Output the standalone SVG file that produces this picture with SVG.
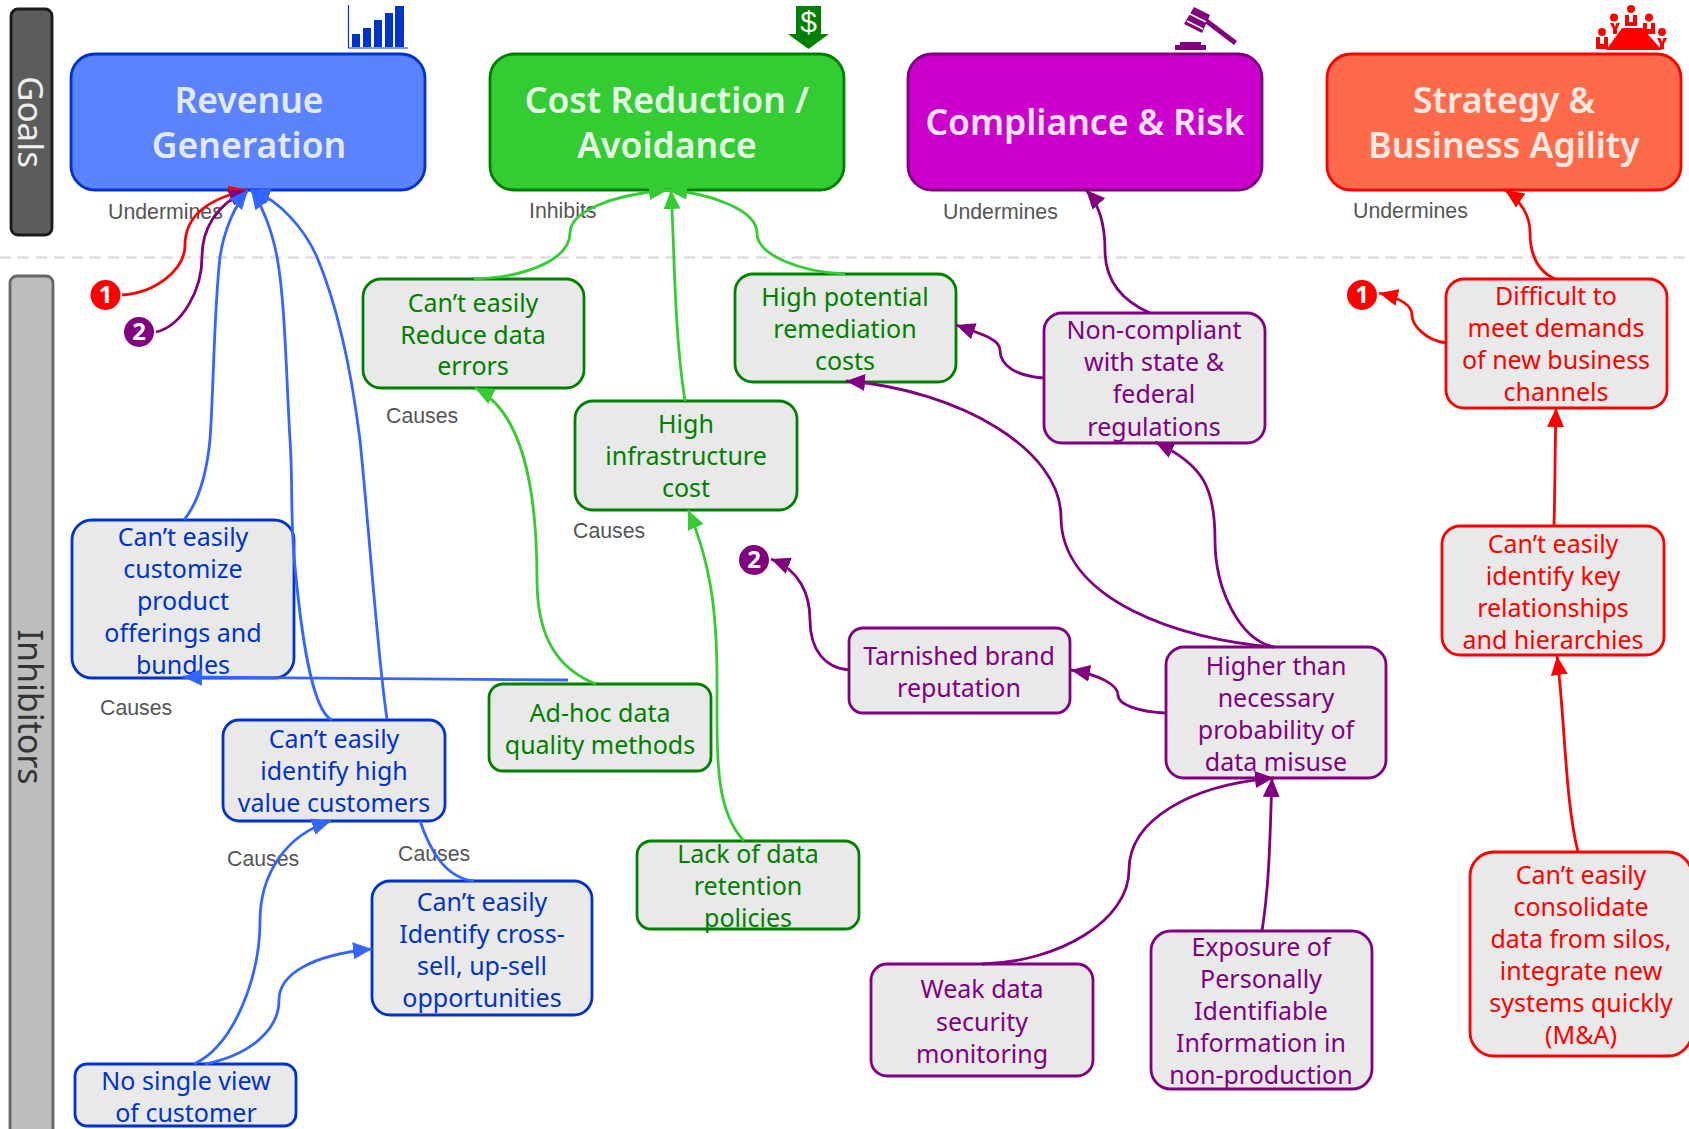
<svg xmlns="http://www.w3.org/2000/svg" width="1689" height="1129" viewBox="0 0 1689 1129">
<style>
text{font-family:"Noto Sans","DejaVu Sans",sans-serif;text-anchor:middle}
.goal{stroke-width:2.800}
.n{fill:#e9e9e9;stroke-width:2.800}
.t{font-size:25px;transform:translateY(-0.3px)}
.g{font-size:35.500px;font-weight:600}
.lab{font-family:"Liberation Sans",Arial,sans-serif;font-size:21.300px;fill:#555;text-anchor:start}
.c{fill:none;stroke-width:2.800}
.b{stroke:#36f}.gr{stroke:#3c3}.p{stroke:#800080}.r{stroke:#f00}
.tb{fill:#03c}.tg{fill:#008000}.tp{fill:#800080}.tr{fill:#f00}
.sb{stroke:#03c}.sg{stroke:#008000}.sp{stroke:#800080}.sr{stroke:#f00}
.num{font-size:24px;font-weight:700;fill:#fff}
</style>
<defs>
<marker id="ab" markerUnits="userSpaceOnUse" markerWidth="20" markerHeight="17" refX="19" refY="8.500" orient="auto"><path d="M0,0L19,8.500L0,17z" fill="#36f"/></marker>
<marker id="ag" markerUnits="userSpaceOnUse" markerWidth="20" markerHeight="17" refX="19" refY="8.500" orient="auto"><path d="M0,0L19,8.500L0,17z" fill="#3c3"/></marker>
<marker id="ap" markerUnits="userSpaceOnUse" markerWidth="20" markerHeight="17" refX="19" refY="8.500" orient="auto"><path d="M0,0L19,8.500L0,17z" fill="#800080"/></marker>
<marker id="ar" markerUnits="userSpaceOnUse" markerWidth="20" markerHeight="17" refX="19" refY="8.500" orient="auto"><path d="M0,0L19,8.500L0,17z" fill="#f00"/></marker>
</defs>
<rect width="1689" height="1129" fill="#fff"/>
<line x1="0" y1="257.500" x2="1689" y2="257.500" stroke="#ddd" stroke-width="2.500" stroke-dasharray="11 7"/>
<g id="band-goals"><rect x="11" y="9" width="41" height="226" rx="7" fill="#5c5c5c" stroke="#1a1a1a" stroke-width="2.800"/><text transform="translate(18,122) rotate(90)" font-size="35" fill="#eee">Goals</text></g>
<g id="band-inhibitors"><rect x="10" y="276" width="43" height="870" rx="7" fill="#bdbdbd" stroke="#666" stroke-width="2.800"/><text transform="translate(18,707) rotate(90)" font-size="34" fill="#333">Inhibitors</text></g>

<g id="goal-revenue"><rect class="goal sb" x="71" y="54" width="354" height="136" rx="24" fill="#5b83ff"/><text class="g" x="249" y="113" fill="#e3e9ff">Revenue</text><text class="g" x="249" y="158" fill="#e3e9ff">Generation</text></g>
<g id="goal-cost"><rect class="goal sg" x="490" y="54" width="354" height="136" rx="24" fill="#3c3"/><text class="g" x="667" y="113" fill="#e6fae6">Cost Reduction /</text><text class="g" x="667" y="158" fill="#e6fae6">Avoidance</text></g>
<g id="goal-compliance"><rect class="goal sp" x="908" y="54" width="354" height="136" rx="24" fill="#c0c"/><text class="g" x="1085" y="135" fill="#fde5fd">Compliance &amp; Risk</text></g>
<g id="goal-strategy"><rect class="goal sr" x="1327" y="54" width="354" height="136" rx="24" fill="#ff6a4a"/><text class="g" x="1504" y="113" fill="#ffe9e3">Strategy &amp;</text><text class="g" x="1504" y="158" fill="#ffe9e3">Business Agility</text></g>

<g id="icon-bars" fill="#03c"><rect x="352" y="34" width="8" height="13"/><rect x="363" y="28" width="8" height="19"/><rect x="374" y="20" width="8" height="27"/><rect x="385" y="13" width="8" height="34"/><rect x="395" y="6" width="9" height="41"/><path d="M348.500,5V48H408" fill="none" stroke="#03c" stroke-width="1.200"/></g>
<g id="icon-dollar"><path d="M796,6H821V34H829L808.500,49L788,34H796z" fill="#008000"/><text x="808.500" y="32" font-size="30" fill="#fff" style="font-family:'Liberation Sans',sans-serif">$</text></g>
<g id="icon-gavel" fill="#800080"><path d="M1194,7L1210,15L1202,33L1184,24z"/><path d="M1189,13.500L1206,22M1187,21L1203,29" stroke="#fff" stroke-width="1.500" fill="none"/><path d="M1205,23L1208,19L1237,41L1234,45z"/><rect x="1180" y="42" width="21" height="4"/><rect x="1175" y="45" width="31" height="5"/></g>
<g id="icon-people" fill="#f00"><path d="M1622,28H1642L1662,50H1606z"/><circle cx="1631" cy="9" r="4"/><circle cx="1614" cy="17.500" r="4"/><circle cx="1649" cy="17.500" r="4"/><circle cx="1602" cy="32" r="4"/><circle cx="1662" cy="32" r="4"/>
<path d="M1625,15h4v7h4v-7h4v11h-12z"/><path d="M1643,23h4v6h4v-6h4v11h-12z"/><path d="M1596,37h4v7h4v-7h4v12h-12z"/><path d="M1610,23h3.500l1.500,4l1.500,-4h3.500l-3,6v5h-4v-5z"/><path d="M1657,38h3.500l1.500,4l1.500,-4h3.500l-3,6v5h-4v-5z"/></g>

<g id="labels"><text class="lab" x="108" y="219">Undermines</text><text class="lab" x="529" y="218">Inhibits</text><text class="lab" x="943" y="219">Undermines</text><text class="lab" x="1353" y="218">Undermines</text><text class="lab" x="386" y="423">Causes</text><text class="lab" x="573" y="538">Causes</text><text class="lab" x="100" y="715">Causes</text><text class="lab" x="227" y="866">Causes</text><text class="lab" x="398" y="861">Causes</text></g>

<g id="m1a"><circle cx="105.500" cy="295" r="15" fill="#f00"/><text class="num" x="105.500" y="303">1</text></g>
<g id="m2a"><circle cx="139" cy="332" r="15" fill="#800080"/><text class="num" x="139" y="340">2</text></g>
<g id="m2b"><circle cx="754" cy="560" r="15" fill="#800080"/><text class="num" x="754" y="568">2</text></g>
<g id="m1b"><circle cx="1362" cy="295" r="15" fill="#f00"/><text class="num" x="1362" y="303">1</text></g>

<g id="n-reduce"><rect class="n sg" x="363" y="279" width="221" height="109" rx="18"/><g class="t tg"><text x="473" y="312">Can’t easily</text><text x="473" y="344">Reduce data</text><text x="473" y="375">errors</text></g></g>
<g id="n-remediation"><rect class="n sg" x="735" y="274" width="221" height="108" rx="18"/><g class="t tg"><text x="845" y="306">High potential</text><text x="845" y="338">remediation</text><text x="845" y="370">costs</text></g></g>
<g id="n-noncompliant"><rect class="n sp" x="1044" y="313" width="221" height="130" rx="18"/><g class="t tp"><text x="1154" y="339">Non-compliant</text><text x="1154" y="371">with state &amp;</text><text x="1154" y="403">federal</text><text x="1154" y="436">regulations</text></g></g>
<g id="n-difficult"><rect class="n sr" x="1446" y="279" width="221" height="129" rx="18"/><g class="t tr"><text x="1556" y="305">Difficult to</text><text x="1556" y="337">meet demands</text><text x="1556" y="369">of new business</text><text x="1556" y="401">channels</text></g></g>
<g id="n-infra"><rect class="n sg" x="575" y="401" width="222" height="109" rx="18"/><g class="t tg"><text x="686" y="433">High</text><text x="686" y="465">infrastructure</text><text x="686" y="497">cost</text></g></g>
<g id="n-customize"><rect class="n sb" x="72" y="520" width="222" height="158" rx="20"/><g class="t tb"><text x="183" y="546">Can’t easily</text><text x="183" y="578">customize</text><text x="183" y="610">product</text><text x="183" y="642">offerings and</text><text x="183" y="674">bundles</text></g></g>
<g id="n-key"><rect class="n sr" x="1442" y="526" width="222" height="129" rx="18"/><g class="t tr"><text x="1553" y="553">Can’t easily</text><text x="1553" y="585">identify key</text><text x="1553" y="617">relationships</text><text x="1553" y="649">and hierarchies</text></g></g>
<g id="n-tarnished"><rect class="n sp" x="849" y="628" width="221" height="85" rx="14"/><g class="t tp"><text x="959" y="665">Tarnished brand</text><text x="959" y="697">reputation</text></g></g>
<g id="n-higher"><rect class="n sp" x="1166" y="647" width="220" height="131" rx="18"/><g class="t tp"><text x="1276" y="675">Higher than</text><text x="1276" y="707">necessary</text><text x="1276" y="739">probability of</text><text x="1276" y="771">data misuse</text></g></g>
<g id="n-adhoc"><rect class="n sg" x="489" y="684" width="222" height="87" rx="14"/><g class="t tg"><text x="600" y="722">Ad-hoc data</text><text x="600" y="754">quality methods</text></g></g>
<g id="n-highvalue"><rect class="n sb" x="223" y="720" width="222" height="101" rx="16"/><g class="t tb"><text x="334" y="748">Can’t easily</text><text x="334" y="780">identify high</text><text x="334" y="812">value customers</text></g></g>
<g id="n-lack"><rect class="n sg" x="637" y="841" width="222" height="88" rx="14"/><g class="t tg"><text x="748" y="863">Lack of data</text><text x="748" y="895">retention</text><text x="748" y="927">policies</text></g></g>
<g id="n-cross"><rect class="n sb" x="372" y="881" width="220" height="134" rx="18"/><g class="t tb"><text x="482" y="911">Can’t easily</text><text x="482" y="943">Identify cross-</text><text x="482" y="975">sell, up-sell</text><text x="482" y="1007">opportunities</text></g></g>
<g id="n-consolidate"><rect class="n sr" x="1470" y="852" width="222" height="204" rx="24"/><g class="t tr"><text x="1581" y="884">Can’t easily</text><text x="1581" y="916">consolidate</text><text x="1581" y="948">data from silos,</text><text x="1581" y="980">integrate new</text><text x="1581" y="1012">systems quickly</text><text x="1581" y="1044">(M&amp;A)</text></g></g>
<g id="n-weak"><rect class="n sp" x="871" y="964" width="222" height="112" rx="16"/><g class="t tp"><text x="982" y="998">Weak data</text><text x="982" y="1031">security</text><text x="982" y="1063">monitoring</text></g></g>
<g id="n-exposure"><rect class="n sp" x="1151" y="931" width="221" height="158" rx="20"/><g class="t tp"><text x="1261" y="956">Exposure of</text><text x="1261" y="988">Personally</text><text x="1261" y="1020">Identifiable</text><text x="1261" y="1052">Information in</text><text x="1261" y="1084">non-production</text></g></g>
<g id="n-single"><rect class="n sb" x="75" y="1064" width="221" height="62" rx="12"/><g class="t tb"><text x="186" y="1090">No single view</text><text x="186" y="1122">of customer</text></g></g>

<g id="connectors">
<path class="c r" marker-end="url(#ar)" d="M122,295C155,293 185,270 185,245C185,212 215,197 248,190"/>
<path class="c p" marker-end="url(#ap)" d="M156,332C182,326 202,290 202,257C202,230 215,205 248,190"/>
<path class="c b" marker-end="url(#ab)" d="M184,520C200,500 207,470 210,440C214,380 214,310 220,257C224,230 235,205 248,190"/>
<path class="c b" marker-end="url(#ab)" d="M332,720C310,710 300,620 295,567C290,520 293,480 290,440C286,370 285,300 277,257C272,230 262,205 251,190"/>
<path class="c b" marker-end="url(#ab)" d="M387,719C378,660 370,540 360,440C350,360 335,300 317,257C305,230 280,200 251,190"/>
<path class="c b" marker-end="url(#ab)" d="M568,680L183,677"/>
<path class="c b" d="M474,881C445,878 430,850 420,821"/>
<path class="c b" marker-end="url(#ab)" d="M194,1064C235,1045 260,975 260,921C260,875 285,835 331,821"/>
<path class="c b" marker-end="url(#ab)" d="M205,1064C250,1055 279,1030 279,1000C279,975 310,955 372,949"/>
<path class="c gr" marker-end="url(#ag)" d="M474,279C530,277 570,258 570,233C570,212 610,195 668,190"/>
<path class="c gr" marker-end="url(#ag)" d="M685,401C674,330 675,260 671,190"/>
<path class="c gr" marker-end="url(#ag)" d="M845,274C800,272 757,255 757,233C757,210 710,193 668,190"/>
<path class="c gr" marker-end="url(#ag)" d="M596,684C560,670 537,640 537,580C537,480 520,410 475,388"/>
<path class="c gr" marker-end="url(#ag)" d="M744,841C715,810 717,760 717,680C717,610 710,560 688,510"/>
<path class="c p" marker-end="url(#ap)" d="M1150,313C1120,300 1105,280 1105,250C1105,225 1100,205 1086,190"/>
<path class="c p" marker-end="url(#ap)" d="M1044,378C1015,376 1000,365 1000,350C1000,340 985,335 956,325"/>
<path class="c p" marker-end="url(#ap)" d="M1274,647C1180,640 1061,600 1061,517C1061,450 960,390 846,381"/>
<path class="c p" marker-end="url(#ap)" d="M1274,647C1240,640 1215,590 1215,540C1215,490 1205,465 1155,442"/>
<path class="c p" marker-end="url(#ap)" d="M1166,713C1140,712 1118,705 1118,695C1118,685 1100,675 1071,670"/>
<path class="c p" marker-end="url(#ap)" d="M849,670C825,668 810,650 810,620C810,595 800,570 771,559"/>
<path class="c p" marker-end="url(#ap)" d="M982,964C1060,962 1129,920 1129,870C1129,820 1190,785 1274,778"/>
<path class="c p" marker-end="url(#ap)" d="M1262,931C1270,880 1270,830 1272,778"/>
<path class="c r" marker-end="url(#ar)" d="M1555,279C1535,270 1530,250 1530,232C1530,215 1520,200 1505,190"/>
<path class="c r" marker-end="url(#ar)" d="M1446,343C1425,340 1412,325 1412,315C1412,305 1400,298 1379,293"/>
<path class="c r" marker-end="url(#ar)" d="M1554,526C1555,490 1555,450 1556,408"/>
<path class="c r" marker-end="url(#ar)" d="M1578,852C1565,800 1565,720 1557,656"/>
</g>
</svg>
